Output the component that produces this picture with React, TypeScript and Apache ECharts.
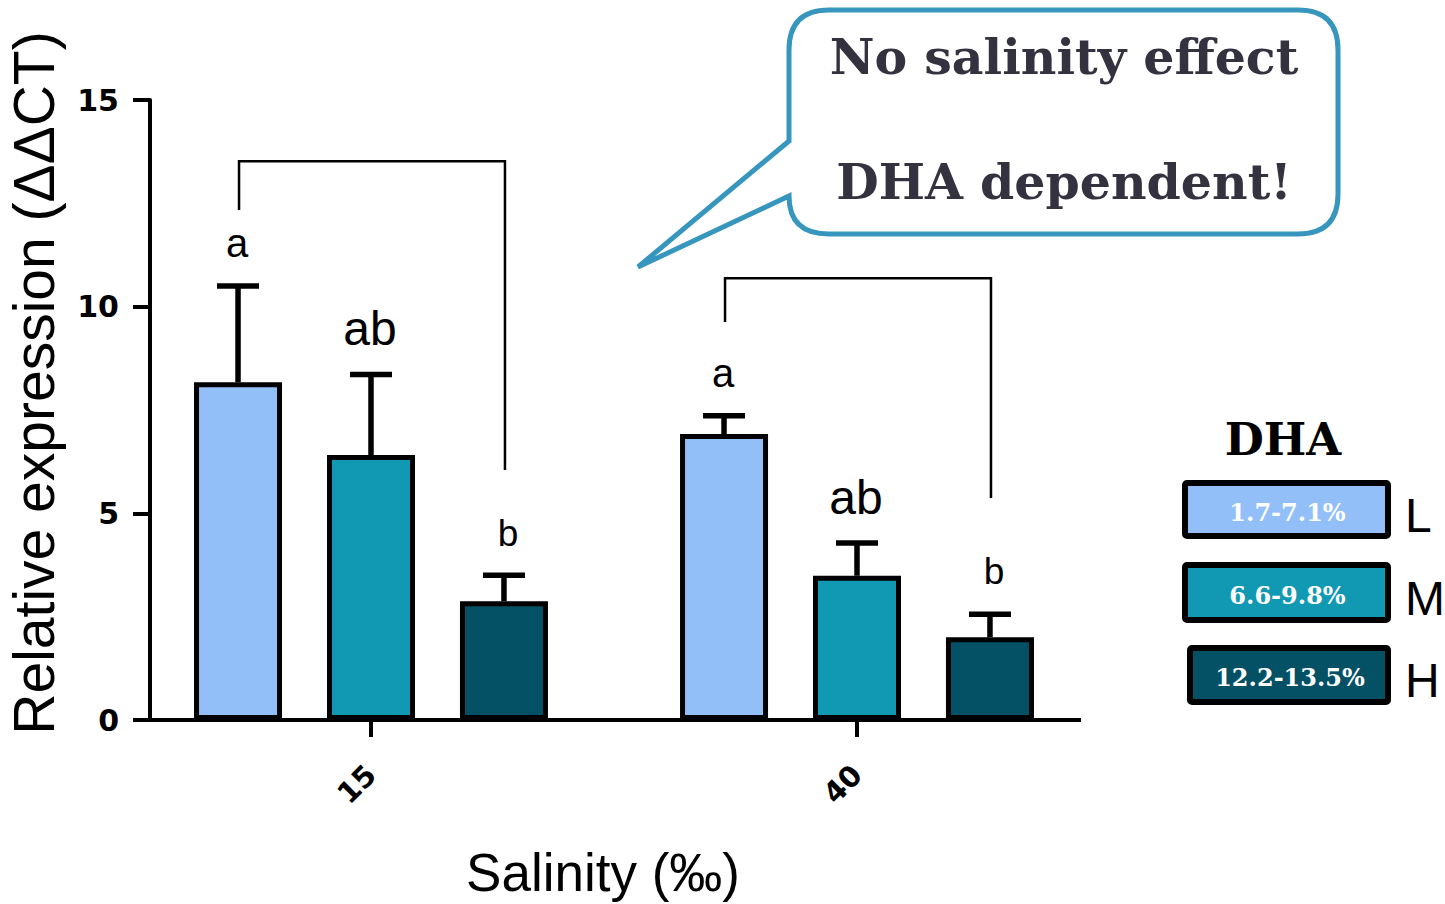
import React, { useEffect, useRef } from "react";
import * as echarts from "echarts";

// ---------- data ----------
const categories = ["15", "40"];
const seriesNames = ["L", "M", "H"];
const dhaRanges = ["1.7-7.1%", "6.6-9.8%", "12.2-13.5%"];
const seriesColors = ["#92bff8", "#1199b3", "#045064"];
const meanL = [8.17, 6.92];
const meanM = [6.41, 3.49];
const meanH = [2.87, 2.0];
const errL = [2.33, 0.44];
const errM = [1.95, 0.79];
const errH = [0.63, 0.56];
const lettersL = ["a", "a"];
const lettersM = ["ab", "ab"];
const lettersH = ["b", "b"];
const bracketTop = [13.52, 10.69];
const bracketLeftEnd = [12.34, 9.63];
const bracketRightEnd = [6.05, 5.37];
const yMin = 0;
const yMax = 15;
const yInterval = 5;
const calloutLines = ["No salinity effect", "DHA dependent!"];
const legendTitle = "DHA";
const xAxisName = "Salinity (\u2030)";
const yAxisName = "Relative expression (\u0394\u0394CT)";

// ---------- layout constants ----------
const BAR_W = 88;
const BAR_GAP_RATIO = 0.511;
const BAR_STEP = BAR_W * (1 + BAR_GAP_RATIO);
const CAP_HALF = 21;

const CALLOUT_D =
  "M 829 10 L 1298 10 Q 1338 10 1338 50 L 1338 194 Q 1338 234 1298 234 L 829 234 Q 789 234 789 196 L 638 267 L 789 141 L 789 50 Q 789 10 829 10 Z";

let registered = false;
function ensureShape() {
  if (registered) return;
  registered = true;
  echarts.graphic.registerShape(
    "callout",
    (echarts.graphic as any).extendPath(CALLOUT_D, {})
  );
}

const means = [meanL, meanM, meanH];
const errs = [errL, errM, errH];
const letters = [lettersL, lettersM, lettersH];

const letterSize: Record<string, number> = { a: 40, ab: 48, b: 37 };

export default function App() {
  const ref = useRef<HTMLDivElement>(null);
  useEffect(() => {
    if (!ref.current) return;
    ensureShape();
    const chart = echarts.init(ref.current, undefined, { renderer: "svg" });

    const errData: any[] = [];
    const errLetters: string[] = [];
    for (let s = 0; s < 3; s++) {
      for (let i = 0; i < categories.length; i++) {
        errData.push([i, s, means[s][i], errs[s][i]]);
        errLetters.push(letters[s][i]);
      }
    }
    const bracketData = categories.map((_, i) => [
      i,
      bracketTop[i],
      bracketLeftEnd[i],
      bracketRightEnd[i],
    ]);

    const legendGraphics: any[] = [];
    const boxes = [
      { x: 1185, y: 483, w: 203, h: 53, cy: 512 },
      { x: 1185, y: 565, w: 203, h: 55, cy: 595 },
      { x: 1190, y: 648, w: 198, h: 54, cy: 677 },
    ];
    seriesNames.forEach((name, k) => {
      const b = boxes[k];
      legendGraphics.push({
        type: "rect",
        shape: { x: b.x, y: b.y, width: b.w, height: b.h, r: 2 },
        style: { fill: seriesColors[k], stroke: "#000", lineWidth: 6 },
      });
      legendGraphics.push({
        type: "text",
        x: b.x + b.w / 2 + 1,
        y: b.cy,
        style: {
          text: dhaRanges[k],
          fill: "#fff",
          font: "bold 24px 'DejaVu Serif'",
          align: "center",
          verticalAlign: "middle",
        },
      });
      legendGraphics.push({
        type: "text",
        x: 1405,
        y: b.cy + 3,
        style: {
          text: name,
          fill: "#000",
          font: "300 48px 'Liberation Sans'",
          align: "left",
          verticalAlign: "middle",
        },
      });
    });

    const option: any = {
      animation: false,
      backgroundColor: "#fff",
      grid: {
        left: 128,
        right: 345,
        top: 100,
        bottom: 184,
        containLabel: false,
        outerBoundsMode: "none",
      },
      xAxis: {
        type: "category",
        data: categories,
        axisLine: { show: false },
        axisTick: {
          show: true,
          alignWithLabel: true,
          length: 17,
          lineStyle: { color: "#000", width: 4 },
        },
        axisLabel: {
          rotate: 45,
          margin: 50,
          color: "#000",
          fontFamily: "DejaVu Sans",
          fontWeight: "bold",
          fontSize: 29,
        },
        name: xAxisName,
        nameLocation: "middle",
        nameGap: 126,
        nameTextStyle: {
          fontFamily: "Liberation Sans",
          fontSize: 53,
          color: "#000",
          padding: [0, 22, 0, 0],
        },
      },
      yAxis: {
        type: "value",
        min: yMin,
        max: yMax,
        interval: yInterval,
        offset: -22,
        splitLine: { show: false },
        axisLine: { show: true, lineStyle: { color: "#000", width: 4 } },
        axisTick: { show: true, length: 17, lineStyle: { color: "#000", width: 4 } },
        axisLabel: {
          margin: 31,
          color: "#000",
          fontFamily: "DejaVu Sans",
          fontWeight: "bold",
          fontSize: 30,
        },
        name: yAxisName,
        nameLocation: "middle",
        nameRotate: 90,
        nameGap: 88,
        nameTextStyle: {
          fontFamily: "Liberation Sans",
          fontSize: 57,
          color: "#000",
          padding: [0, 0, 0, 54],
        },
      },
      series: [
        ...seriesNames.map((name, s) => ({
          name,
          type: "bar",
          data: means[s],
          barWidth: BAR_W,
          barGap: `${BAR_GAP_RATIO * 100}%`,
          itemStyle: { color: seriesColors[s], borderColor: "#000", borderWidth: 5 },
          z: 2,
        })),
        {
          type: "custom",
          name: "error",
          data: errData,
          encode: { x: 0, y: 2 },
          z: 3,
          renderItem: (params: any, api: any) => {
            const cat = api.value(0);
            const s = api.value(1);
            const mean = api.value(2);
            const err = api.value(3);
            const base = api.coord([cat, mean]);
            const top = api.coord([cat, mean + err]);
            const x = base[0] + (s - 1) * BAR_STEP;
            const letter = errLetters[params.dataIndex];
            const fs = letterSize[letter] || 40;
            return {
              type: "group",
              children: [
                {
                  type: "line",
                  shape: { x1: x, y1: base[1], x2: x, y2: top[1] },
                  style: { stroke: "#000", lineWidth: 5.5 },
                },
                {
                  type: "line",
                  shape: { x1: x - CAP_HALF, y1: top[1], x2: x + CAP_HALF, y2: top[1] },
                  style: { stroke: "#000", lineWidth: 5.5 },
                },
                {
                  type: "text",
                  x: x - 1 + (s === 2 ? 5 : 0),
                  y: top[1] - 30 - fs * 0.33,
                  style: {
                    text: letter,
                    fill: "#000",
                    font: `${fs}px 'Liberation Sans'`,
                    align: "center",
                    verticalAlign: "middle",
                  },
                },
              ],
            };
          },
        },
        {
          type: "custom",
          name: "brackets",
          data: bracketData,
          encode: { x: 0, y: 1 },
          z: 3,
          renderItem: (params: any, api: any) => {
            const cat = api.value(0);
            const pTop = api.coord([cat, api.value(1)]);
            const pL = api.coord([cat, api.value(2)]);
            const pR = api.coord([cat, api.value(3)]);
            const xL = pTop[0] - BAR_STEP + 1;
            const xR = pTop[0] + BAR_STEP + 1;
            return {
              type: "polyline",
              shape: {
                points: [
                  [xL, pL[1]],
                  [xL, pTop[1]],
                  [xR, pTop[1]],
                  [xR, pR[1]],
                ],
              },
              style: { stroke: "#000", lineWidth: 2.5, fill: "none" },
            };
          },
        },
      ],
      graphic: [
        {
          type: "line",
          shape: { x1: 148, y1: 720, x2: 1081, y2: 720 },
          style: { stroke: "#000", lineWidth: 4 },
          z: 10,
        },
        {
          type: "callout",
          x: 0,
          y: 0,
          style: { fill: "#fff", stroke: "#3796bd", lineWidth: 5, lineJoin: "miter" },
        },
        {
          type: "text",
          x: 1064,
          y: 57,
          style: {
            text: calloutLines[0],
            fill: "#34323f",
            font: "bold 49px 'DejaVu Serif'",
            align: "center",
            verticalAlign: "middle",
          },
        },
        {
          type: "text",
          x: 1064,
          y: 182,
          style: {
            text: calloutLines[1],
            fill: "#34323f",
            font: "bold 49px 'DejaVu Serif'",
            align: "center",
            verticalAlign: "middle",
          },
        },
        {
          type: "text",
          x: 1283,
          y: 439,
          style: {
            text: legendTitle,
            fill: "#000",
            font: "bold 45px 'DejaVu Serif'",
            align: "center",
            verticalAlign: "middle",
          },
        },
        ...legendGraphics,
      ],
    };
    chart.setOption(option);
    return () => chart.dispose();
  }, []);
  return (
    <div
      ref={ref}
      style={{ position: "fixed", left: 0, top: 0, width: 1445, height: 904 }}
    />
  );
}
